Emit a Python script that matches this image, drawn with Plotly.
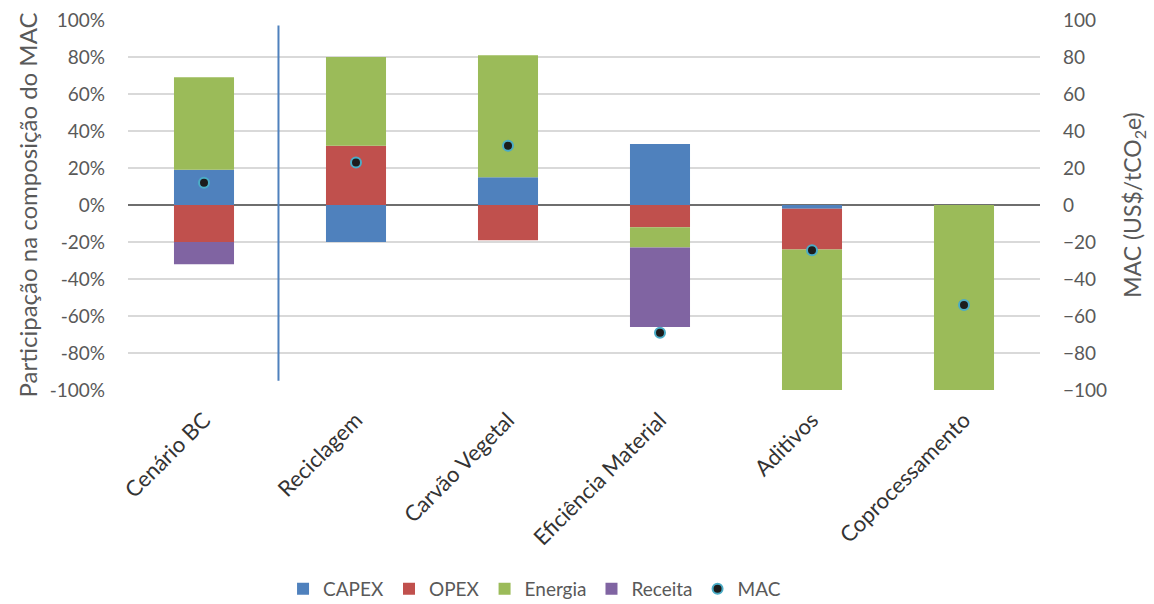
import plotly.graph_objects as go

categorias = ["Cenário BC", "Reciclagem", "Carvão Vegetal", "Eficiência Material", "Aditivos", "Coprocessamento"]
capex = [19, -20, 15, 33, -2, 0]
opex = [-20, 32, -19, -12, -22, 0]
energia = [50, 48, 66, -11, -76, -100]
receita = [-12, 0, 0, -43, 0, 0]
mac = [12, 23, 32, -69, -24.5, -54]

ticks_pct = [100, 80, 60, 40, 20, 0, -20, -40, -60, -80, -100]

FONT = "Lato"
GRAY = "#595959"

fig = go.Figure()
for nome, valores, cor in [
    ("CAPEX", capex, "#4f81bd"),
    ("OPEX", opex, "#c0504d"),
    ("Energia", energia, "#9bbb59"),
    ("Receita", receita, "#8064a2"),
]:
    fig.add_trace(go.Bar(name=nome, x=categorias, y=valores, marker=dict(color=cor, line=dict(width=0))))

fig.add_trace(go.Scatter(
    name="MAC", x=categorias, y=mac, yaxis="y2", mode="markers",
    marker=dict(color="#1c1c1c", size=10, line=dict(color="#4bacc6", width=2)),
))

# separator between the base scenario and the alternatives
fig.add_shape(type="line", xref="x", yref="y", x0=0.49, x1=0.49, y0=97, y1=-95,
              line=dict(color="#4f81bd", width=2))

fig.update_layout(
    barmode="relative",
    bargap=0.605,
    width=1154, height=604,
    margin=dict(l=128, r=114, t=20, b=214),
    plot_bgcolor="white", paper_bgcolor="white",
    font=dict(family=FONT, color=GRAY, size=19),
    xaxis=dict(tickangle=-45, tickfont=dict(size=22, color="#333333"), showgrid=False,
               showline=False, zeroline=False, automargin=False, ticklabelstandoff=12),
    yaxis=dict(
        range=[-100, 100], tickvals=ticks_pct, ticktext=[f"{v}%" for v in ticks_pct],
        gridcolor="#d9d9d9", gridwidth=1.5, zeroline=True, zerolinecolor="#6e6e6e", zerolinewidth=2,
        ticklabelstandoff=22, automargin=False,
        title=dict(text="Participação na composição do MAC", font=dict(size=24), standoff=5),
    ),
    yaxis2=dict(
        range=[-100, 100], tickvals=ticks_pct, overlaying="y", side="right", showgrid=False,
        zeroline=False, ticklabelstandoff=22, automargin=False,
        title=dict(text="MAC (US$/tCO<sub>2</sub>e)", font=dict(size=23), standoff=18),
    ),
    legend=dict(orientation="h", x=0.17, xanchor="left", yref="container", y=0.025,
                yanchor="middle", font=dict(size=19), itemwidth=30, traceorder="normal"),
)

fig.write_html("out.html")
